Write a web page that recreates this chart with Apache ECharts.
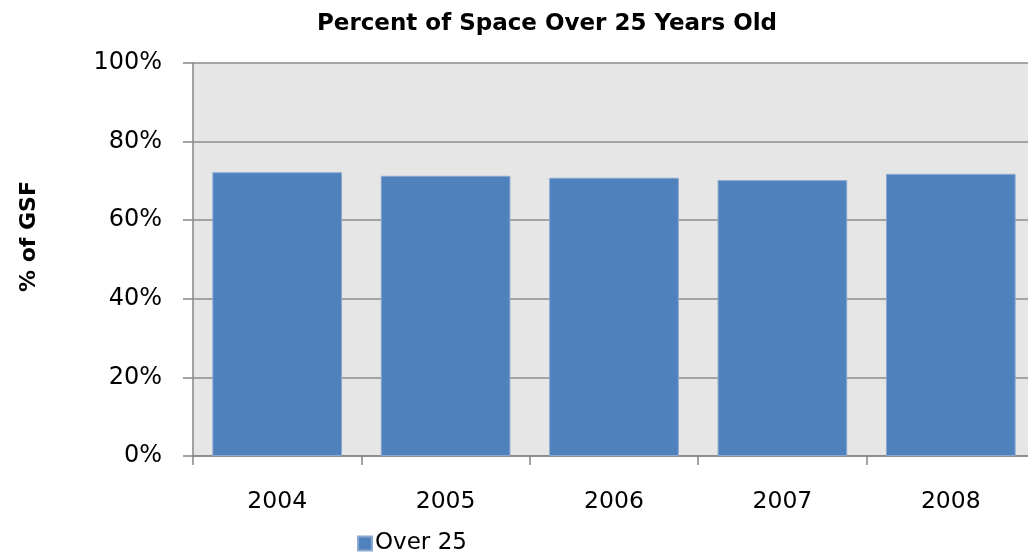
<!DOCTYPE html>
<html>
<head>
<meta charset="utf-8">
<script src="https://cdn.jsdelivr.net/npm/echarts@6/dist/echarts.min.js"></script>
<style>
  html, body { margin: 0; padding: 0; background: #fff; }
  #chart { width: 1028px; height: 556px; }
</style>
</head>
<body>
<div id="chart"></div>
<script>
const years = ['2004', '2005', '2006', '2007', '2008'];
const over25 = [72.2, 71.3, 70.8, 70.2, 71.8];
const seriesName = 'Over 25';

const font = 'DejaVu Sans';
const chart = echarts.init(document.getElementById('chart'));

const option = {
    animation: false,
    title: {
        text: 'Percent of Space Over 25 Years Old',
        left: 542,
        textAlign: 'center',
        top: 8,
        textStyle: { fontFamily: font, fontSize: 23, fontWeight: 'bold', color: '#000' }
    },
    legend: {
        data: [seriesName],
        left: 352,
        top: 527,
        icon: 'rect',
        itemWidth: 14,
        itemHeight: 14,
        itemGap: 4,
        textStyle: { fontFamily: font, fontSize: 23, color: '#000', padding: [0, 0, 0, -2] }
    },
    grid: {
        left: 193,
        top: 63,
        right: -7,
        bottom: 100,
        outerBoundsMode: 'none',
        show: true,
        backgroundColor: '#e6e6e6',
        borderWidth: 0
    },
    xAxis: {
        type: 'category',
        data: years,
        axisLine: { lineStyle: { color: '#868686', width: 1.5 } },
        axisTick: { show: true, length: 9, lineStyle: { color: '#868686', width: 1.5 } },
        axisLabel: { margin: 34, fontFamily: font, fontSize: 23.5, color: '#000' }
    },
    yAxis: {
        type: 'value',
        min: 0,
        max: 100,
        interval: 20,
        name: '% of GSF',
        nameLocation: 'middle',
        nameGap: 153,
        nameTextStyle: { fontFamily: font, fontSize: 22, fontWeight: 'bold', color: '#000', padding: [0, 0, 0, 46] },
        axisLine: { show: true, lineStyle: { color: '#868686', width: 1.5 } },
        axisTick: { show: true, length: 10, lineStyle: { color: '#868686', width: 1.5 } },
        axisLabel: { margin: 31, fontFamily: font, fontSize: 24, color: '#000', formatter: '{value}%' },
        splitLine: { lineStyle: { color: '#8c8c8c', width: 1.5 } }
    },
    series: [
        {
            name: seriesName,
            type: 'bar',
            data: over25,
            barCategoryGap: '23%',
            itemStyle: { color: '#4f81bd', borderColor: '#8aa8d0', borderWidth: 1 }
        }
    ]
};
chart.setOption(option);
</script>
</body>
</html>
